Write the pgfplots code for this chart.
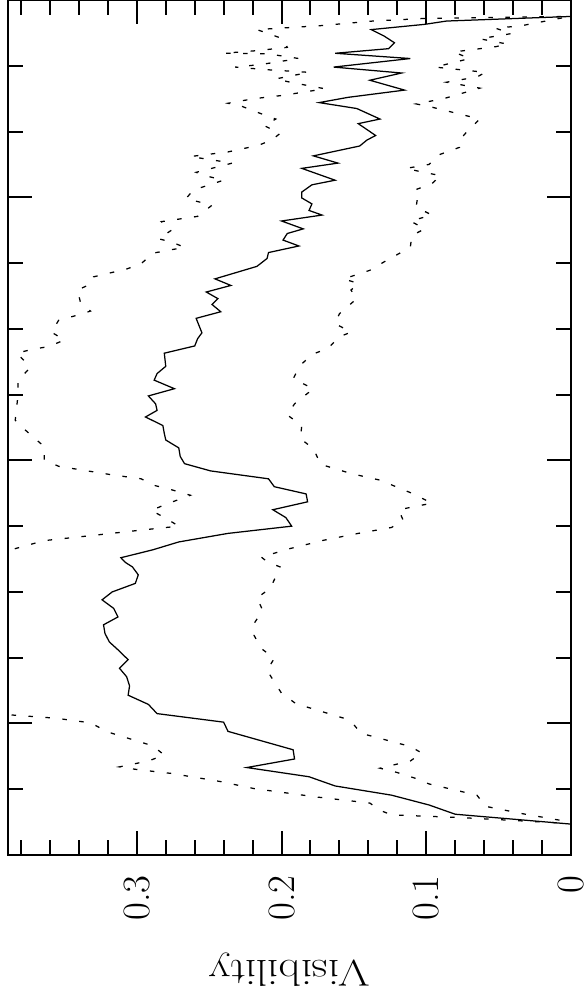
\documentclass[border=0pt]{standalone}
\usepackage{graphicx}
\usepackage{pgfplots}
\pgfplotsset{compat=1.18}
\usepackage{pgfplotstable}

% u = position along the (unlabelled) vertical axis, v = visibility
\pgfplotstableread{
u v
0.47 0
0.62 0.080
0.76 0.098
0.91 0.124
1.05 0.163
1.19 0.181
1.33 0.224
1.46 0.191
1.60 0.192
1.88 0.237
2.02 0.240
2.15 0.286
2.29 0.292
2.43 0.306
2.57 0.305
2.71 0.307
2.84 0.312
2.97 0.306
3.12 0.313
3.24 0.319
3.37 0.322
3.50 0.323
3.62 0.313
3.75 0.316
3.88 0.324
4.00 0.317
4.13 0.301
4.26 0.299
4.38 0.303
4.45 0.308
4.52 0.311
4.64 0.289
4.76 0.271
4.89 0.237
5.00 0.193
5.13 0.197
5.25 0.206
5.37 0.182
5.49 0.183
5.60 0.205
5.72 0.209
5.84 0.249
5.95 0.267
6.06 0.270
6.19 0.271
6.31 0.280
6.41 0.281
6.53 0.282
6.66 0.294
6.76 0.286
6.86 0.287
6.98 0.292
7.09 0.274
7.22 0.288
7.32 0.286
7.43 0.280
7.63 0.281
7.74 0.260
7.85 0.258
7.94 0.255
8.16 0.259
8.26 0.242
8.37 0.248
8.46 0.244
8.56 0.252
8.66 0.235
8.76 0.246
8.95 0.217
9.07 0.210
9.16 0.209
9.26 0.188
9.35 0.199
9.45 0.196
9.52 0.185
9.64 0.200
9.73 0.172
9.80 0.181
9.90 0.179
9.99 0.186
10.08 0.186
10.19 0.179
10.26 0.163
10.44 0.186
10.52 0.161
10.63 0.178
10.78 0.146
10.87 0.141
10.94 0.135
11.12 0.147
11.19 0.132
11.35 0.148
11.44 0.174
11.52 0.154
11.63 0.115
11.78 0.139
11.89 0.117
11.98 0.164
12.11 0.111
12.19 0.163
12.26 0.126
12.35 0.122
12.45 0.129
12.55 0.138
12.63 0.101
12.68 0.086
12.75 0
}\solidtab

\pgfplotstableread{
u v
0.49 0.010
0.57 0.077
0.61 0.124
0.68 0.132
0.79 0.139
0.88 0.175
1.01 0.219
1.12 0.243
1.24 0.276
1.30 0.300
1.34 0.312
1.43 0.292
1.52 0.281
1.66 0.289
1.87 0.320
2.01 0.332
2.08 0.356
2.13 0.387
2.25 0.420
3.40 0.450
4.50 0.410
4.64 0.387
4.78 0.364
4.86 0.330
4.94 0.297
5.00 0.271
5.12 0.280
5.24 0.290
5.34 0.279
5.47 0.263
5.56 0.277
5.62 0.288
5.72 0.297
5.78 0.317
5.91 0.354
6.01 0.364
6.21 0.364
6.48 0.378
6.61 0.384
6.81 0.383
7.01 0.382
7.22 0.382
7.40 0.374
7.50 0.377
7.63 0.383
7.69 0.372
7.73 0.361
7.83 0.350
7.95 0.359
8.13 0.354
8.19 0.344
8.27 0.332
8.41 0.339
8.59 0.341
8.68 0.332
8.79 0.330
8.91 0.307
8.99 0.297
9.15 0.289
9.24 0.267
9.32 0.276
9.37 0.285
9.50 0.276
9.63 0.283
9.71 0.258
9.88 0.248
9.98 0.266
10.11 0.261
10.26 0.240
10.33 0.253
10.38 0.259
10.52 0.234
10.62 0.263
10.69 0.237
10.79 0.216
10.87 0.207
10.97 0.201
11.09 0.212
11.19 0.204
11.27 0.214
11.38 0.227
11.43 0.237
11.50 0.219
11.55 0.199
11.65 0.170
11.75 0.194
11.80 0.204
11.90 0.181
11.94 0.210
11.98 0.232
12.02 0.214
12.11 0.188
12.18 0.209
12.19 0.240
12.23 0.217
12.28 0.196
12.41 0.199
12.55 0.217
12.61 0.173
12.68 0.137
12.72 0.101
12.74 0.034
12.75 0
}\uppertab

\pgfplotstableread{
u v
0.53 0.008
0.63 0.034
0.74 0.059
0.91 0.065
1.08 0.098
1.17 0.108
1.26 0.121
1.32 0.132
1.43 0.111
1.55 0.103
1.65 0.111
1.85 0.145
1.98 0.150
2.08 0.157
2.30 0.190
2.46 0.200
2.63 0.205
2.81 0.210
2.99 0.205
3.14 0.214
3.34 0.219
3.52 0.219
3.72 0.213
3.91 0.217
4.05 0.208
4.23 0.204
4.38 0.201
4.46 0.210
4.53 0.214
4.66 0.194
4.79 0.170
4.89 0.147
4.98 0.124
5.09 0.116
5.25 0.119
5.35 0.096
5.51 0.111
5.70 0.132
5.80 0.152
5.94 0.173
6.18 0.178
6.33 0.187
6.53 0.186
6.69 0.196
6.86 0.191
7.09 0.178
7.24 0.192
7.45 0.187
7.62 0.178
7.70 0.168
7.88 0.160
7.95 0.152
8.08 0.163
8.23 0.160
8.46 0.148
8.59 0.152
8.69 0.147
8.76 0.157
8.89 0.139
9.02 0.129
9.24 0.111
9.42 0.110
9.52 0.101
9.64 0.111
9.73 0.096
9.85 0.107
10.00 0.106
10.11 0.108
10.21 0.096
10.33 0.090
10.38 0.102
10.44 0.114
10.50 0.098
10.64 0.092
10.76 0.077
10.87 0.077
11.02 0.071
11.19 0.063
11.25 0.074
11.37 0.096
11.42 0.107
11.50 0.088
11.66 0.063
11.75 0.086
11.83 0.065
11.90 0.059
11.98 0.094
12.11 0.070
12.21 0.081
12.29 0.052
12.33 0.044
12.41 0.063
12.49 0.041
12.57 0.052
12.61 0.034
12.72 0.008
12.75 0
}\lowertab

\begin{document}
\begin{tikzpicture}
\begin{axis}[
    at={(0,0)}, anchor=north west,
    scale only axis,
    width=225.2pt, height=342pt,
    x dir=reverse,
    xmin=0, xmax=0.389,
    ymin=0, ymax=13,
    xtick={0,0.1,0.2,0.3},
    xticklabels={0,0.1,0.2,0.3},
    minor xtick={0.02,0.04,0.06,0.08,0.12,0.14,0.16,0.18,0.22,0.24,0.26,0.28,0.32,0.34,0.36,0.38},
    ytick={2,6,10},
    yticklabels={},
    minor ytick={1,3,4,5,7,8,9,11,12},
    tick align=inside,
    major tick length=9.6pt,
    minor tick length=6pt,
    tick style={black, line width=0.8pt},
    axis line style={line width=0.8pt},
    xticklabel style={rotate=90, anchor=east, inner sep=0pt,
        font=\fontsize{15.5}{18}\selectfont},
    xticklabel shift=8pt,
    xlabel={\scalebox{1.18}[1]{Visibility}},
    xlabel style={at={(axis description cs:0.5,0)}, anchor=center,
        yshift=-46pt, rotate=180, inner sep=0pt,
        font=\fontsize{15}{18}\selectfont},
]
\addplot[black, line width=0.5pt, mark=none] table[x=v, y=u] {\solidtab};
\addplot[black, line width=0.5pt, mark=none, dash pattern=on 1.8pt off 5pt] table[x=v, y=u] {\uppertab};
\addplot[black, line width=0.5pt, mark=none, dash pattern=on 1.8pt off 5pt] table[x=v, y=u] {\lowertab};
\end{axis}
\pgfresetboundingbox
\path[use as bounding box] (-3.2pt,0pt) rectangle (230.8pt,-401.2pt);
\end{tikzpicture}
\end{document}
